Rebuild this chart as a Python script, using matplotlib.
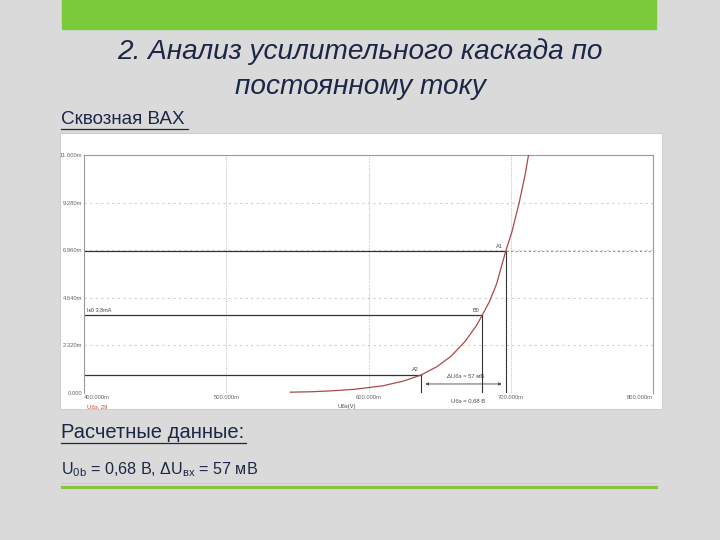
import matplotlib
matplotlib.use("Agg")
import matplotlib.pyplot as plt
from matplotlib.patches import Rectangle
from matplotlib.lines import Line2D

plt.rcParams['font.family'] = ['Liberation Sans', 'DejaVu Sans']
plt.rcParams['mathtext.default'] = 'regular'

# ---- data ----
ube_v = [0.545, 0.560, 0.575, 0.590, 0.610, 0.625, 0.637, 0.648, 0.658, 0.668, 0.676,
         0.680, 0.685, 0.690, 0.6965, 0.701, 0.706, 0.710, 0.714, 0.718]
ik_ma = [0.04, 0.06, 0.11, 0.18, 0.35, 0.59, 0.88, 1.28, 1.79, 2.52, 3.30,
         3.80, 4.45, 5.31, 6.92, 7.90, 9.30, 10.6, 12.2, 13.9]
x_ticks = [0.4, 0.5, 0.6, 0.7, 0.8]
x_tick_labels = ["400.000m", "500.000m", "600.000m", "700.000m", "800.000m"]
y_ticks = [0.0, 2.32, 4.64, 6.96, 9.28, 11.6]
y_tick_labels = ["0.000", "2.320m", "4.640m", "6.960m", "9.280m", "11.600m"]
cursor_names = ["A2", "B0", "A1"]
cursor_v = [0.637, 0.680, 0.6965]
cursor_i = [0.88, 3.80, 6.92]

W, H = 720, 540
fig = plt.figure(figsize=(7.2, 5.4), dpi=100)
fig.patch.set_facecolor("#dadada")

def fx(px):
    return px / W

def fy(py):
    return 1 - py / H

# top green bar
fig.add_artist(Rectangle((fx(62), fy(29)), fx(656) - fx(62), 29 / H,
                         transform=fig.transFigure, color="#7acc3c", zorder=0))
# bottom green line
fig.add_artist(Line2D([fx(62), fx(656)], [fy(487), fy(487)], transform=fig.transFigure,
                      color="#86c440", lw=2.2))
fig.add_artist(Line2D([fx(62), fx(656)], [fy(483), fy(483)], transform=fig.transFigure,
                      color="#c8c8c8", lw=0.6))

navy = "#1c2747"
fig.text(0.5, fy(52), "2. Анализ усилительного каскада по", ha="center", va="center",
         fontsize=20.2, style="italic", color=navy)
fig.text(0.5, fy(87), "постоянному току", ha="center", va="center",
         fontsize=20.2, style="italic", color=navy)
fig.text(fx(61), fy(120), "Сквозная ВАХ", ha="left", va="center", fontsize=13.6,
         color=navy)
fig.add_artist(Line2D([fx(61), fx(188)], [fy(129), fy(129)], transform=fig.transFigure,
                      color=navy, lw=0.9))
fig.text(fx(61), fy(433), "Расчетные данные:", ha="left", va="center", fontsize=14.5,
         color=navy)
fig.add_artist(Line2D([fx(61), fx(246)], [fy(443), fy(443)], transform=fig.transFigure,
                      color=navy, lw=0.9))
fig.text(fx(61), fy(470), r"U$_{0b}$ = 0,68 В, ΔU$_{вх}$ = 57 мВ", ha="left", va="center",
         fontsize=11.6, color=navy)

# white chart box
fig.add_artist(Rectangle((fx(60), fy(409)), fx(662) - fx(60), (409 - 133) / H,
                         transform=fig.transFigure, facecolor="white", edgecolor="#cfcfcf",
                         lw=0.8, zorder=0.5))

ax = fig.add_axes([fx(84), fy(393), fx(653) - fx(84), (393 - 155) / H])
ax.set_zorder(2)
ax.set_facecolor("white")
ax.set_xlim(0.4, 0.8)
ax.set_ylim(0.0, 11.6)
for s in ["left", "top", "right"]:
    ax.spines[s].set_color("#9a9a9a")
    ax.spines[s].set_linewidth(0.8)
ax.spines["bottom"].set_visible(False)
ax.set_xticks(x_ticks)
ax.set_yticks(y_ticks)
ax.set_xticklabels(x_tick_labels)
ax.set_yticklabels(y_tick_labels)
ax.tick_params(length=0, labelsize=4.2, labelcolor="#666666", pad=1.5)
ax.get_xticklabels()[0].set_horizontalalignment("left")
ax.get_xticklabels()[-1].set_horizontalalignment("right")

# grid
for xv in x_ticks[1:-1]:
    ax.axvline(xv, color="#c8c8c8", lw=0.8, ls=(0, (1, 1)), zorder=1)
for yv in y_ticks[1:-1]:
    ax.axhline(yv, color="#d0d0d0", lw=0.8, ls=(0, (2, 3)), zorder=1)

# cursor lines
for name, cv, ci in zip(cursor_names, cursor_v, cursor_i):
    ax.plot([0.4, cv], [ci, ci], color="#333333", lw=0.9, zorder=2)
    ax.plot([cv, cv], [0, ci], color="#333333", lw=0.8, zorder=2)
    ax.text(cv - 0.002, ci + 0.12, name, ha="right", va="bottom", fontsize=4, color="#444444")
ax.plot([cursor_v[2], 0.8], [cursor_i[2], cursor_i[2]], color="#999999", lw=0.8,
        ls=(0, (2, 2)), zorder=2)

ax.text(0.402, cursor_i[1] + 0.15, "Iк0 3,8mA", ha="left", va="bottom", fontsize=4,
        color="#444444")

# curve
ax.plot(ube_v, ik_ma, color="#a94a4a", lw=0.9, zorder=3, clip_on=True)

# dimension arrow
ax.annotate("", xy=(cursor_v[2] - 0.001, 0.44), xytext=(cursor_v[0] + 0.001, 0.44),
            arrowprops=dict(arrowstyle="<|-|>", color="#444444", lw=0.6,
                            mutation_scale=4))
ax.text(0.655, 0.78, "ΔUбэ = 57 мВ", fontsize=4.2, color="#444444", ha="left", va="center")
ax.text(0.658, -0.25, "Uбэ = 0,68 В", fontsize=4.2, color="#444444", ha="left", va="top",
        clip_on=False)
ax.text(0.585, -0.55, "Uбэ(V)", fontsize=4.2, color="#444444", ha="center", va="top",
        clip_on=False)
ax.text(0.402, -0.55, "Uбэ, 29", fontsize=4.2, color="#c04040", ha="left", va="top",
        clip_on=False)

fig.savefig("out.png", dpi=100, facecolor=fig.get_facecolor())
